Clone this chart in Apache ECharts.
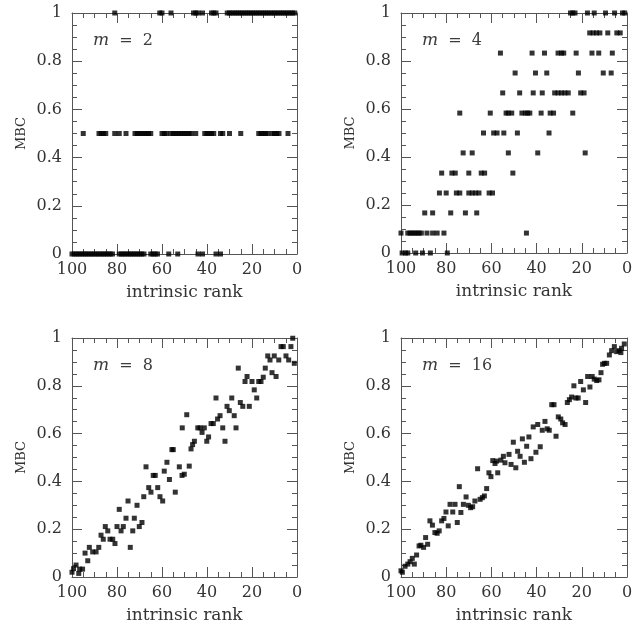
<!DOCTYPE html>
<html>
<head>
<meta charset="utf-8">
<script src="https://cdn.jsdelivr.net/npm/echarts@6/dist/echarts.min.js"></script>
<style>
  html, body { margin: 0; padding: 0; background: #fff; }
  #chart { width: 636px; height: 625px; }
</style>
</head>
<body>
<div id="chart"></div>
<script>
// m = 2: MBC takes only the values 0, 1/2 and 1 -- ranks listed per level
const m2RanksAtZero = [100, 99, 98, 97, 96, 95, 94, 93, 92, 91, 90, 89, 88, 87, 86, 85, 84, 83, 82,
  79, 78, 77, 76, 75, 74, 73, 72, 71, 70, 69, 68, 65, 64, 63, 62, 57, 53, 44, 42, 36, 34];
const m2RanksAtHalf = [95, 88, 87, 86, 85, 81, 79, 76, 72, 71, 70, 69, 68, 67, 66, 65, 60, 59, 58,
  56, 55, 54, 53, 52, 51, 50, 49, 48, 47, 45, 41, 40, 39, 38, 37, 34, 33, 30, 25,
  17, 16, 15, 14, 13, 11, 10, 9, 8, 4];
const m2RanksAtOne = [81, 61, 60, 56, 46, 45, 44, 42, 38, 37, 36,
  31, 30, 29, 28, 27, 26, 25, 24, 23, 22, 21, 20, 19, 18, 17, 16, 15, 14, 13, 12, 11, 10, 9, 8, 7, 6, 5, 4, 3, 2, 1];

// m = 4: [intrinsic rank, MBC]
const m4Points = [
  [25, 1], [24, 1], [23, 1], [17.5, 1], [14.5, 1], [9.5, 1], [5.5, 1], [2, 1], [1, 1],
  [16.5, 0.917], [15, 0.917], [13.5, 0.917], [12, 0.917], [8.5, 0.917], [4.5, 0.917], [3, 0.917],
  [56, 0.833], [42, 0.833], [36.5, 0.833], [30.5, 0.833], [29, 0.833], [28, 0.833], [22.5, 0.833], [15.5, 0.833], [12.5, 0.833], [6.5, 0.833],
  [49.5, 0.75], [40.5, 0.75], [35.5, 0.75], [21.5, 0.75], [10.5, 0.75], [7, 0.75],
  [55, 0.667], [47.5, 0.667], [41.5, 0.667], [37.5, 0.667], [32, 0.667], [30.5, 0.667], [29, 0.667], [27.5, 0.667], [26, 0.667], [20.5, 0.667], [19, 0.667],
  [74, 0.583], [60.5, 0.583], [53.5, 0.583], [52.5, 0.583], [51, 0.583], [46.5, 0.583], [45, 0.583], [44, 0.583], [43, 0.583], [38, 0.583], [34, 0.583], [32.5, 0.583], [24, 0.583],
  [63.5, 0.5], [59, 0.5], [57.5, 0.5], [54.5, 0.5], [48.5, 0.5], [34.5, 0.5],
  [72.5, 0.417], [68.5, 0.417], [52.5, 0.417], [39.5, 0.417], [18.5, 0.417],
  [82, 0.333], [77.5, 0.333], [76, 0.333], [70, 0.333], [64.5, 0.333], [63, 0.333], [50.5, 0.333],
  [83, 0.25], [80, 0.25], [75.5, 0.25], [74, 0.25], [70, 0.25], [68.5, 0.25], [67, 0.25], [65.5, 0.25], [61, 0.25], [59.5, 0.25],
  [89.5, 0.167], [86, 0.167], [78, 0.167], [71.5, 0.167], [66.5, 0.167],
  [100, 0.083], [97, 0.083], [96, 0.083], [95, 0.083], [94, 0.083], [93, 0.083], [92, 0.083], [91, 0.083], [88.5, 0.083], [86, 0.083], [84, 0.083], [81, 0.083], [44.5, 0.083],
  [99.5, 0], [98, 0], [97, 0], [93.5, 0], [90.5, 0], [87, 0], [79.5, 0]
];

// m = 8: [intrinsic rank, MBC]
const m8Points = [
  [100.0, 0.02], [99.3, 0.035], [98.2, 0.05], [97.0, 0.015], [96.6, 0.033], [95.3, 0.033], [94.2, 0.10], [93.0, 0.068],
  [92.3, 0.124], [90.8, 0.105], [89.3, 0.105], [88.1, 0.124], [87.1, 0.175], [86.1, 0.158], [85.2, 0.211], [84.1, 0.193],
  [83.1, 0.158], [81.9, 0.158], [80.9, 0.14], [80.0, 0.211], [79.0, 0.283], [78.2, 0.193], [77.2, 0.211], [76.0, 0.246],
  [75.1, 0.318], [74.1, 0.124], [73.0, 0.193], [72.3, 0.246], [71.1, 0.30], [70.1, 0.211], [68.9, 0.228], [68.1, 0.336],
  [67.1, 0.461], [65.9, 0.374], [64.9, 0.355], [63.9, 0.425], [63.0, 0.425], [61.9, 0.374], [60.9, 0.336], [59.7, 0.318],
  [59.0, 0.443], [57.8, 0.48], [56.7, 0.408], [55.6, 0.533], [55.0, 0.533], [54.1, 0.355], [52.3, 0.461], [51.1, 0.425],
  [51.0, 0.624], [50.1, 0.43], [49.0, 0.679], [47.9, 0.464], [47.1, 0.536], [46.4, 0.554], [45.6, 0.568], [44.1, 0.624],
  [43.1, 0.624], [42.2, 0.605], [41.2, 0.624], [40.1, 0.568], [39.3, 0.586], [38.2, 0.642], [37.2, 0.642], [36.0, 0.749],
  [35.3, 0.661], [34.2, 0.675], [33.0, 0.624], [32.0, 0.568], [31.1, 0.714], [30.1, 0.696], [29.0, 0.749], [27.9, 0.675],
  [27.1, 0.624], [26.1, 0.874], [25.2, 0.73], [24.1, 0.714], [23.1, 0.818], [22.2, 0.839], [21.2, 0.714], [20.0, 0.818],
  [19.0, 0.783], [17.9, 0.749], [17.0, 0.818], [16.0, 0.818], [15.0, 0.836], [14.1, 0.874], [13.0, 0.925], [12.0, 0.908],
  [11.1, 0.855], [10.1, 0.925], [9.3, 0.839], [8.1, 0.908], [7.1, 0.964], [6.1, 0.964], [4.9, 0.925], [3.7, 0.908],
  [2.7, 0.964], [1.9, 0.999], [1.2, 0.894]
];

// m = 16: [intrinsic rank, MBC]
const m16Points = [
  [100.0, 0.026], [99.4, 0.02], [98.2, 0.045], [97.0, 0.054], [96.0, 0.064], [95.0, 0.078], [94.1, 0.054], [93.1, 0.092],
  [92.0, 0.13], [91.2, 0.133], [90.0, 0.124], [89.1, 0.165], [88.2, 0.137], [87.2, 0.235], [86.1, 0.217], [85.0, 0.186],
  [84.0, 0.183], [83.1, 0.193], [82.0, 0.235], [81.0, 0.245], [80.1, 0.272], [79.1, 0.214], [78.3, 0.304], [77.1, 0.272],
  [76.1, 0.304], [75.1, 0.228], [74.2, 0.378], [73.5, 0.27], [72.4, 0.304], [71.2, 0.335], [70.2, 0.30], [69.2, 0.29],
  [68.3, 0.294], [67.3, 0.318], [66.1, 0.453], [65.0, 0.325], [64.0, 0.332], [63.1, 0.339], [62.1, 0.37], [61.1, 0.436],
  [60.2, 0.42], [59.4, 0.487], [58.4, 0.475], [57.7, 0.485], [57.2, 0.436], [55.8, 0.489], [54.7, 0.505], [54.0, 0.478],
  [52.2, 0.513], [51.3, 0.471], [50.3, 0.564], [49.2, 0.457], [48.4, 0.526], [47.3, 0.505], [46.3, 0.578], [45.4, 0.48],
  [44.4, 0.547], [43.4, 0.586], [42.5, 0.495], [41.5, 0.628], [40.3, 0.522], [39.5, 0.638], [38.4, 0.545], [37.5, 0.614],
  [36.3, 0.651], [35.3, 0.62], [34.4, 0.614], [33.3, 0.721], [32.3, 0.721], [31.4, 0.589], [30.4, 0.67], [29.3, 0.661],
  [28.5, 0.645], [27.4, 0.638], [26.4, 0.73], [25.5, 0.742], [24.5, 0.753], [23.5, 0.80], [22.6, 0.749], [21.6, 0.749],
  [20.5, 0.818], [19.3, 0.783], [18.3, 0.73], [17.4, 0.839], [16.4, 0.795], [15.4, 0.839], [14.5, 0.828], [13.4, 0.822],
  [12.4, 0.825], [11.5, 0.855], [10.8, 0.89], [10.0, 0.894], [9.0, 0.894], [7.8, 0.929], [6.8, 0.947], [5.6, 0.964],
  [4.6, 0.943], [3.5, 0.947], [2.7, 0.939], [2.4, 0.957], [1.2, 0.975]
];

const panelM = ['2', '4', '8', '16'];

// MBC levels of the m = 2 panel built from the rank lists
const m2Points = []
  .concat(m2RanksAtZero.map(r => [r, 0]))
  .concat(m2RanksAtHalf.map(r => [r, 0.5]))
  .concat(m2RanksAtOne.map(r => [r, 1]));

const panelData = [m2Points, m4Points, m8Points, m16Points];

const FONT = 'DejaVu Serif';
const AXIS_COLOR = '#555';
const TEXT_COLOR = '#333';

const grids = [
  { left: 72, top: 13, width: 225, height: 241 },
  { left: 401, top: 13, width: 226, height: 240 },
  { left: 72, top: 338, width: 225, height: 240 },
  { left: 401, top: 338, width: 226, height: 240 }
];

function frameAxis(extra) {
  return Object.assign({
    type: 'value',
    axisLine: { show: true, onZero: false, lineStyle: { color: AXIS_COLOR, width: 1 } },
    axisTick: { show: true, inside: true, length: 10, lineStyle: { color: AXIS_COLOR, width: 1 } },
    minorTick: { show: true, splitNumber: 4, length: 5, lineStyle: { color: AXIS_COLOR, width: 1 } },
    splitLine: { show: false },
    minorSplitLine: { show: false }
  }, extra);
}

const xAxes = [];
const yAxes = [];
const series = [];
const graphics = [];

grids.forEach((g, i) => {
  // rank axis, 100 on the left
  xAxes.push(frameAxis({
    gridIndex: i, position: 'bottom', inverse: true, min: 0, max: 100, interval: 20,
    name: 'intrinsic rank', nameLocation: 'middle', nameGap: 30,
    nameTextStyle: { fontFamily: FONT, fontSize: 17, color: TEXT_COLOR },
    axisLabel: { show: true, margin: 8, fontFamily: FONT, fontSize: 16, color: TEXT_COLOR }
  }));
  xAxes.push(frameAxis({
    gridIndex: i, position: 'top', inverse: true, min: 0, max: 100, interval: 20,
    axisLabel: { show: false }
  }));
  yAxes.push(frameAxis({
    gridIndex: i, position: 'left', min: 0, max: 1, interval: 0.2,
    name: 'MBC', nameLocation: 'middle', nameGap: 44, nameRotate: 90,
    nameTextStyle: { fontFamily: FONT, fontSize: 13, color: TEXT_COLOR },
    axisLabel: { show: true, margin: 10, fontFamily: FONT, fontSize: 16, color: TEXT_COLOR }
  }));
  yAxes.push(frameAxis({
    gridIndex: i, position: 'right', min: 0, max: 1, interval: 0.2,
    axisLabel: { show: false }
  }));

  series.push({
    type: 'scatter',
    xAxisIndex: 2 * i,
    yAxisIndex: 2 * i,
    data: panelData[i],
    symbol: 'rect',
    symbolSize: [5, 5],
    clip: false,
    itemStyle: { color: '#000' },
    silent: true,
    animation: false
  });

  graphics.push({
    type: 'text',
    left: g.left + 21,
    top: g.top + 19,
    silent: true,
    style: {
      text: '{i|m}  =  ' + panelM[i],
      fontFamily: FONT,
      fontSize: 16,
      fill: '#3c3c3c',
      rich: { i: { fontStyle: 'italic', fontFamily: FONT, fontSize: 17, fill: '#3c3c3c' } }
    }
  });
});

const chart = echarts.init(document.getElementById('chart'), null, { renderer: 'canvas' });
chart.setOption({
  backgroundColor: '#fff',
  animation: false,
  grid: grids,
  xAxis: xAxes,
  yAxis: yAxes,
  series: series,
  graphic: graphics
});
</script>
</body>
</html>
